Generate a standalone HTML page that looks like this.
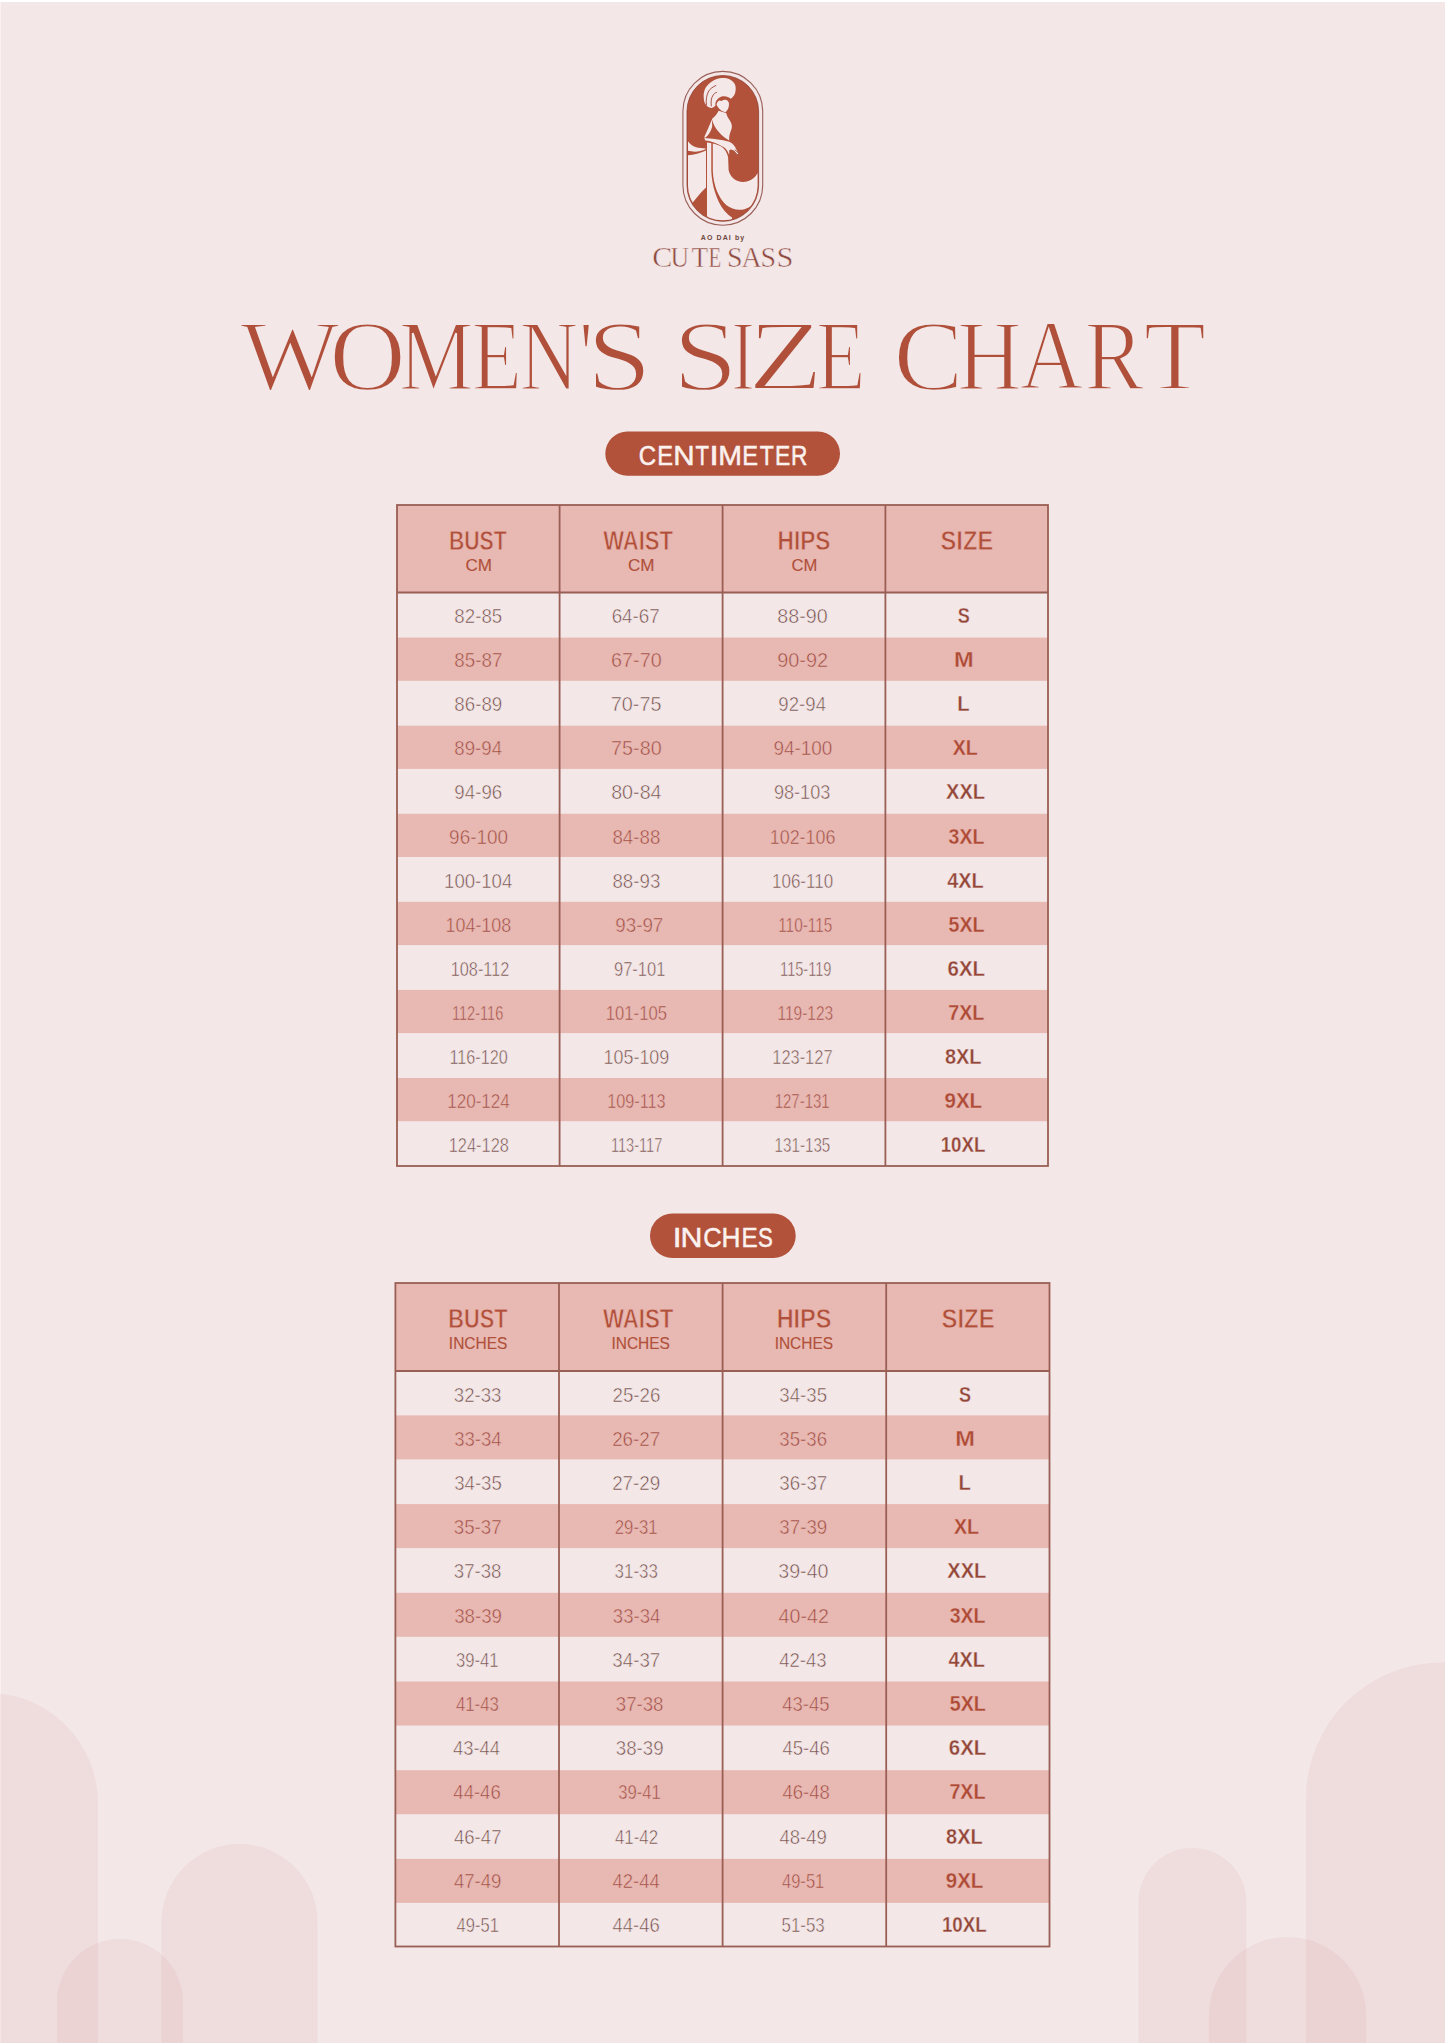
<!DOCTYPE html><html><head><meta charset="utf-8"><title>Women's Size Chart</title>
<style>html,body{margin:0;padding:0;background:#F3E7E8;}body{width:1445px;height:2043px;overflow:hidden;}svg{display:block;}</style></head><body>
<svg width="1445" height="2043" viewBox="0 0 1445 2043">
<rect x="0" y="0" width="1445" height="2043" fill="#F3E7E8"/>
<rect x="0" y="0" width="1445" height="2" fill="#FFFFFF"/>
<rect x="0" y="2" width="1" height="2041" fill="#FBF1F0"/>
<path d="M-122.0 2048.0 L-122.0 1803.0 A110.0 110.0 0 0 1 98.0 1803.0 L98.0 2048.0 Z" fill="rgba(214,140,140,0.11)"/>
<path d="M161.5 2048.0 L161.5 1922.0 A78.0 78.0 0 0 1 317.5 1922.0 L317.5 2048.0 Z" fill="rgba(214,140,140,0.11)"/>
<path d="M57.0 2048.0 L57.0 2002.0 A63.0 63.0 0 0 1 183.0 2002.0 L183.0 2048.0 Z" fill="rgba(214,140,140,0.11)"/>
<path d="M1306.0 2048.0 L1306.0 1798.5 A136.0 136.0 0 0 1 1578.0 1798.5 L1578.0 2048.0 Z" fill="rgba(214,140,140,0.11)"/>
<path d="M1138.4 2048.0 L1138.4 1902.0 A54.0 54.0 0 0 1 1246.4 1902.0 L1246.4 2048.0 Z" fill="rgba(214,140,140,0.11)"/>
<path d="M1208.9 2048.0 L1208.9 2015.6 A78.6 78.6 0 0 1 1366.1 2015.6 L1366.1 2048.0 Z" fill="rgba(214,140,140,0.11)"/>
<g id="logo">
<defs><clipPath id="lc"><rect x="688.0" y="76.5" width="69.6" height="143.8" rx="34.8" ry="34.8"/></clipPath></defs>
<rect x="682.9" y="71.4" width="79.8" height="153.8" rx="39.9" ry="39.9" fill="none" stroke="#9A5F58" stroke-width="1.1"/>
<rect x="687.0" y="75.5" width="71.6" height="145.8" rx="35.8" ry="35.8" fill="#B2523B"/>
<rect x="687.0" y="75.5" width="71.6" height="145.8" rx="35.8" ry="35.8" fill="none" stroke="#8E3E30" stroke-width="0.8"/>
<g clip-path="url(#lc)" fill="#F4E8E9">
<path d="M703.7,98 C703.3,93 704.5,88.5 707.1,85.8 C709.5,83 712.5,80.5 716,79.2 C719.5,77.8 723.5,77.6 726.5,78.2 C730,79 733,81 734.8,84.1 C736,86.5 736,90.5 735,93.5 C734,96 732.5,97.5 730.8,98.8 C729.8,98 728.8,97.4 728.2,97.2 C726.5,96.2 724.5,96 722.5,96.3 C719.5,96.8 717.5,98.8 716.5,100.5 C715.5,102 715.2,103.5 715.4,105.5 C714,107.5 712,108.3 710,107.8 C707,107 705,104 704.2,101.5 Z"/>
<path d="M716.5,104.5 C717,102.5 718,101 719.5,100.5 L721.5,101 C723,100 724.5,99.6 725.8,99.8 C727.2,100.2 728.4,101.2 728.9,103 C729.3,105.5 728.5,108 727.4,110 C726.6,111.3 725.8,112 725.2,112.2 C723.8,111.8 722.6,111.2 721.2,110.4 C719.2,109 717.4,107 716.5,104.5 Z"/>
<path d="M718.6,110.8 C717.5,113.5 715,116.5 711.9,118.9 C713.2,125.5 718.2,133.2 727.6,139.6 L729.2,140.4 C728.9,137 729.6,134 731,130.6 C732.6,127 732.1,123.5 729.6,120 C727.8,117.8 726.8,115.5 726.2,113 C725,112.8 723.3,112.4 722,111.8 C720.8,111.5 719.6,111.2 718.6,110.8 Z"/>
<path d="M711.9,119.6 C709.5,125.5 706.8,131.5 704.1,137.6 L705.6,137.6 C708.5,135 711,131.5 712.2,126.5 Z"/>
<path d="M704.3,137.9 C710,138.2 722,139.5 729.2,141.7 C731.8,142.8 733.6,144.6 734.8,146.6 L738.5,153.5 L736.8,154.4 L733,150.2 C731.5,149 730,149.2 729.2,150.4 L729.2,155 C727.5,150.5 725,147.5 722.4,146.6 C716,142.8 710,140.8 705.3,140.6 Z"/>
<path d="M686,137.5 C688,142.5 691.5,145.8 696,147.3 C699,148.1 702.5,148.4 705.6,148.4 L705.6,149.2 C702,150.6 698.5,151.7 695,151.7 C691.5,151.7 688.5,151 686,150.3 Z"/>
<path d="M686,155.4 C692,155.2 700,153.5 706,150.4 L706,187.4 C701,192 696,198 691,205 L686,205 Z"/>
<path d="M707,142.4 C708.5,142.6 710,142.9 711.3,143.3 L711.3,171 C711.9,185 716.2,200 724.2,210.6 C726.7,213.6 729.2,215.6 732,217.6 L732,230 L707,230 Z"/>
<path d="M712.8,143.6 C717,144.6 720.5,146 722.6,147.4 C725,149.2 727,152.5 728.1,157 L728.6,170 C730,177 735.5,181.9 743.2,181.9 C750.2,181.6 755.2,178 759,171 L759,190 C756.7,198 753.7,204.2 749.2,207.2 C742.2,211.2 733.2,210.6 726.2,205 C718.4,198 713.4,185 712.8,171 Z"/>
</g>
<g fill="none" stroke="#9A4232" stroke-width="0.9" stroke-linecap="round" clip-path="url(#lc)">
<path d="M706.4,104.9 C705.8,100 706.4,95 708.8,91 C710.2,88.8 712,87.5 715.8,85.5"/>
<path d="M711.3,105.9 C710.8,102 711,98 713.3,94.8 C714.2,93.6 715,93 716.5,92.4"/>
<path d="M733.8,150.8 L737.2,154.6 M735,149.8 L738.4,153"/>
</g>
</g>

<text x="700.80" y="240.00" font-size="7.00" textLength="43.39" lengthAdjust="spacing" font-family="Liberation Sans" font-weight="bold" fill="#6F4740">AO DAI by</text>
<g stroke="#F3E7E8" stroke-width="0.5">
<text x="652.30" y="266.60" font-size="30.00" textLength="20.01" lengthAdjust="spacingAndGlyphs" font-family="Liberation Serif" font-weight="normal" fill="#8E4A3F">C</text>
<text x="670.59" y="266.60" font-size="30.00" textLength="18.59" lengthAdjust="spacingAndGlyphs" font-family="Liberation Serif" font-weight="normal" fill="#8E4A3F">U</text>
<text x="691.56" y="266.60" font-size="30.00" textLength="16.57" lengthAdjust="spacingAndGlyphs" font-family="Liberation Serif" font-weight="normal" fill="#8E4A3F">T</text>
<text x="708.58" y="266.60" font-size="30.00" textLength="12.68" lengthAdjust="spacingAndGlyphs" font-family="Liberation Serif" font-weight="normal" fill="#8E4A3F">E</text>
<text x="726.99" y="266.60" font-size="30.00" textLength="15.52" lengthAdjust="spacingAndGlyphs" font-family="Liberation Serif" font-weight="normal" fill="#8E4A3F">S</text>
<text x="741.52" y="266.60" font-size="30.00" textLength="20.08" lengthAdjust="spacingAndGlyphs" font-family="Liberation Serif" font-weight="normal" fill="#8E4A3F">A</text>
<text x="760.59" y="266.60" font-size="30.00" textLength="15.52" lengthAdjust="spacingAndGlyphs" font-family="Liberation Serif" font-weight="normal" fill="#8E4A3F">S</text>
<text x="776.42" y="266.60" font-size="30.00" textLength="16.94" lengthAdjust="spacingAndGlyphs" font-family="Liberation Serif" font-weight="normal" fill="#8E4A3F">S</text>
</g>
<g stroke="#F3E7E8" stroke-width="2.20">
<text x="240.20" y="389.10" font-size="100.31" textLength="99.30" lengthAdjust="spacingAndGlyphs" font-family="Liberation Serif" font-weight="normal" fill="#B0503A">W</text>
<text x="329.26" y="389.10" font-size="100.31" textLength="76.62" lengthAdjust="spacingAndGlyphs" font-family="Liberation Serif" font-weight="normal" fill="#B0503A">O</text>
<text x="399.09" y="389.10" font-size="100.31" textLength="74.45" lengthAdjust="spacingAndGlyphs" font-family="Liberation Serif" font-weight="normal" fill="#B0503A">M</text>
<text x="471.43" y="389.10" font-size="100.31" textLength="50.37" lengthAdjust="spacingAndGlyphs" font-family="Liberation Serif" font-weight="normal" fill="#B0503A">E</text>
<text x="519.56" y="389.10" font-size="100.31" textLength="58.75" lengthAdjust="spacingAndGlyphs" font-family="Liberation Serif" font-weight="normal" fill="#B0503A">N</text>
<text x="579.16" y="389.10" font-size="100.31" textLength="13.69" lengthAdjust="spacingAndGlyphs" font-family="Liberation Serif" font-weight="normal" fill="#B0503A">&#39;</text>
<text x="586.70" y="389.10" font-size="100.31" textLength="65.06" lengthAdjust="spacingAndGlyphs" font-family="Liberation Serif" font-weight="normal" fill="#B0503A">S</text>
<text x="672.88" y="389.10" font-size="100.31" textLength="65.19" lengthAdjust="spacingAndGlyphs" font-family="Liberation Serif" font-weight="normal" fill="#B0503A">S</text>
<text x="731.22" y="389.10" font-size="100.31" textLength="23.63" lengthAdjust="spacingAndGlyphs" font-family="Liberation Serif" font-weight="normal" fill="#B0503A">I</text>
<text x="748.06" y="389.10" font-size="100.31" textLength="75.22" lengthAdjust="spacingAndGlyphs" font-family="Liberation Serif" font-weight="normal" fill="#B0503A">Z</text>
<text x="815.97" y="389.10" font-size="100.31" textLength="49.45" lengthAdjust="spacingAndGlyphs" font-family="Liberation Serif" font-weight="normal" fill="#B0503A">E</text>
<text x="893.61" y="389.10" font-size="100.31" textLength="69.86" lengthAdjust="spacingAndGlyphs" font-family="Liberation Serif" font-weight="normal" fill="#B0503A">C</text>
<text x="957.11" y="389.10" font-size="100.31" textLength="64.83" lengthAdjust="spacingAndGlyphs" font-family="Liberation Serif" font-weight="normal" fill="#B0503A">H</text>
<text x="1019.82" y="389.10" font-size="100.31" textLength="63.51" lengthAdjust="spacingAndGlyphs" font-family="Liberation Serif" font-weight="normal" fill="#B0503A">A</text>
<text x="1084.43" y="389.10" font-size="100.31" textLength="59.35" lengthAdjust="spacingAndGlyphs" font-family="Liberation Serif" font-weight="normal" fill="#B0503A">R</text>
<text x="1143.76" y="389.10" font-size="100.31" textLength="62.36" lengthAdjust="spacingAndGlyphs" font-family="Liberation Serif" font-weight="normal" fill="#B0503A">T</text>
</g>
<rect x="605.3" y="431.6" width="234.7" height="44.1" rx="22.0" ry="22.0" fill="#B2523B"/>
<g stroke="#FBF1EE" stroke-width="0.5">
<text x="638.75" y="464.65" font-size="28.20" textLength="17.40" lengthAdjust="spacingAndGlyphs" font-family="Liberation Sans" font-weight="normal" fill="#FBF1EE">C</text>
<text x="657.36" y="464.65" font-size="28.20" textLength="15.79" lengthAdjust="spacingAndGlyphs" font-family="Liberation Sans" font-weight="normal" fill="#FBF1EE">E</text>
<text x="673.38" y="464.65" font-size="28.20" textLength="21.41" lengthAdjust="spacingAndGlyphs" font-family="Liberation Sans" font-weight="normal" fill="#FBF1EE">N</text>
<text x="695.51" y="464.65" font-size="28.20" textLength="13.50" lengthAdjust="spacingAndGlyphs" font-family="Liberation Sans" font-weight="normal" fill="#FBF1EE">T</text>
<text x="709.32" y="464.65" font-size="28.20" textLength="9.65" lengthAdjust="spacingAndGlyphs" font-family="Liberation Sans" font-weight="normal" fill="#FBF1EE">I</text>
<text x="718.27" y="464.65" font-size="28.20" textLength="23.75" lengthAdjust="spacingAndGlyphs" font-family="Liberation Sans" font-weight="normal" fill="#FBF1EE">M</text>
<text x="742.36" y="464.65" font-size="28.20" textLength="15.79" lengthAdjust="spacingAndGlyphs" font-family="Liberation Sans" font-weight="normal" fill="#FBF1EE">E</text>
<text x="759.69" y="464.65" font-size="28.20" textLength="14.04" lengthAdjust="spacingAndGlyphs" font-family="Liberation Sans" font-weight="normal" fill="#FBF1EE">T</text>
<text x="775.12" y="464.65" font-size="28.20" textLength="15.30" lengthAdjust="spacingAndGlyphs" font-family="Liberation Sans" font-weight="normal" fill="#FBF1EE">E</text>
<text x="790.93" y="464.65" font-size="28.20" textLength="16.39" lengthAdjust="spacingAndGlyphs" font-family="Liberation Sans" font-weight="normal" fill="#FBF1EE">R</text>
</g>
<rect x="650.0" y="1213.5" width="145.7" height="44.5" rx="22.2" ry="22.2" fill="#B2523B"/>
<g stroke="#FBF1EE" stroke-width="0.5">
<text x="672.71" y="1246.75" font-size="27.91" textLength="8.77" lengthAdjust="spacingAndGlyphs" font-family="Liberation Sans" font-weight="normal" fill="#FBF1EE">I</text>
<text x="680.42" y="1246.75" font-size="27.91" textLength="21.92" lengthAdjust="spacingAndGlyphs" font-family="Liberation Sans" font-weight="normal" fill="#FBF1EE">N</text>
<text x="703.27" y="1246.75" font-size="27.91" textLength="18.42" lengthAdjust="spacingAndGlyphs" font-family="Liberation Sans" font-weight="normal" fill="#FBF1EE">C</text>
<text x="721.45" y="1246.75" font-size="27.91" textLength="18.96" lengthAdjust="spacingAndGlyphs" font-family="Liberation Sans" font-weight="normal" fill="#FBF1EE">H</text>
<text x="741.41" y="1246.75" font-size="27.91" textLength="16.16" lengthAdjust="spacingAndGlyphs" font-family="Liberation Sans" font-weight="normal" fill="#FBF1EE">E</text>
<text x="757.95" y="1246.75" font-size="27.91" textLength="14.85" lengthAdjust="spacingAndGlyphs" font-family="Liberation Sans" font-weight="normal" fill="#FBF1EE">S</text>
</g>
<rect x="397.0" y="505.0" width="651.0" height="87.5" fill="#E8B8B2"/>
<rect x="397.0" y="637.60" width="651.0" height="43.20" fill="#E8B8B2"/>
<rect x="397.0" y="725.68" width="651.0" height="43.20" fill="#E8B8B2"/>
<rect x="397.0" y="813.76" width="651.0" height="43.20" fill="#E8B8B2"/>
<rect x="397.0" y="901.84" width="651.0" height="43.20" fill="#E8B8B2"/>
<rect x="397.0" y="989.92" width="651.0" height="43.20" fill="#E8B8B2"/>
<rect x="397.0" y="1078.00" width="651.0" height="43.20" fill="#E8B8B2"/>
<g stroke="#9A5F54" stroke-width="1.80" fill="none">
<rect x="397.0" y="505.0" width="651.0" height="661.0"/>
<line x1="397.0" y1="592.5" x2="1048.0" y2="592.5"/>
<line x1="559.6" y1="505.0" x2="559.6" y2="1166.0"/>
<line x1="722.6" y1="505.0" x2="722.6" y2="1166.0"/>
<line x1="885.4" y1="505.0" x2="885.4" y2="1166.0"/>
</g>
<text x="448.97" y="549.80" font-size="28.08" textLength="57.74" lengthAdjust="spacingAndGlyphs" font-family="Liberation Sans" font-weight="bold" fill="#B0503A" stroke="#E8B8B2" stroke-width="0.80">BUST</text>
<text x="465.45" y="571.00" font-size="16.50" textLength="26.50" lengthAdjust="spacingAndGlyphs" font-family="Liberation Sans" font-weight="normal" fill="#B0503A" stroke="#B0503A" stroke-width="0.15">CM</text>
<text x="603.20" y="549.80" font-size="28.08" textLength="69.86" lengthAdjust="spacingAndGlyphs" font-family="Liberation Sans" font-weight="bold" fill="#B0503A" stroke="#E8B8B2" stroke-width="0.80">WAIST</text>
<text x="628.05" y="571.00" font-size="16.50" textLength="26.50" lengthAdjust="spacingAndGlyphs" font-family="Liberation Sans" font-weight="normal" fill="#B0503A" stroke="#B0503A" stroke-width="0.15">CM</text>
<text x="777.58" y="549.80" font-size="28.08" textLength="52.86" lengthAdjust="spacingAndGlyphs" font-family="Liberation Sans" font-weight="bold" fill="#B0503A" stroke="#E8B8B2" stroke-width="0.80">HIPS</text>
<text x="791.57" y="571.00" font-size="16.50" textLength="25.85" lengthAdjust="spacingAndGlyphs" font-family="Liberation Sans" font-weight="normal" fill="#B0503A" stroke="#B0503A" stroke-width="0.15">CM</text>
<text x="940.59" y="549.80" font-size="28.08" textLength="52.60" lengthAdjust="spacingAndGlyphs" font-family="Liberation Sans" font-weight="bold" fill="#B0503A" stroke="#E8B8B2" stroke-width="0.80">SIZE</text>
<text x="454.36" y="623.30" font-size="19.80" textLength="47.84" lengthAdjust="spacingAndGlyphs" font-family="Liberation Sans" font-weight="normal" fill="#6F4943" stroke="#F3E7E8" stroke-width="0.55">82-85</text>
<text x="611.66" y="623.30" font-size="19.80" textLength="48.13" lengthAdjust="spacingAndGlyphs" font-family="Liberation Sans" font-weight="normal" fill="#6F4943" stroke="#F3E7E8" stroke-width="0.55">64-67</text>
<text x="777.31" y="623.30" font-size="19.80" textLength="50.43" lengthAdjust="spacingAndGlyphs" font-family="Liberation Sans" font-weight="normal" fill="#6F4943" stroke="#F3E7E8" stroke-width="0.55">88-90</text>
<text x="957.86" y="623.30" font-size="21.20" textLength="12.01" lengthAdjust="spacingAndGlyphs" font-family="Liberation Sans" font-weight="bold" fill="#934637" stroke="#F3E7E8" stroke-width="0.30">S</text>
<text x="454.35" y="667.34" font-size="19.80" textLength="48.04" lengthAdjust="spacingAndGlyphs" font-family="Liberation Sans" font-weight="normal" fill="#9A4B41" stroke="#E8B8B2" stroke-width="0.55">85-87</text>
<text x="611.11" y="667.34" font-size="19.80" textLength="50.53" lengthAdjust="spacingAndGlyphs" font-family="Liberation Sans" font-weight="normal" fill="#9A4B41" stroke="#E8B8B2" stroke-width="0.55">67-70</text>
<text x="777.26" y="667.34" font-size="19.80" textLength="50.84" lengthAdjust="spacingAndGlyphs" font-family="Liberation Sans" font-weight="normal" fill="#9A4B41" stroke="#E8B8B2" stroke-width="0.55">90-92</text>
<text x="954.02" y="667.34" font-size="21.20" textLength="19.64" lengthAdjust="spacingAndGlyphs" font-family="Liberation Sans" font-weight="bold" fill="#AD4B36" stroke="#E8B8B2" stroke-width="0.30">M</text>
<text x="454.36" y="711.38" font-size="19.80" textLength="47.94" lengthAdjust="spacingAndGlyphs" font-family="Liberation Sans" font-weight="normal" fill="#6F4943" stroke="#F3E7E8" stroke-width="0.55">86-89</text>
<text x="610.76" y="711.38" font-size="19.80" textLength="50.74" lengthAdjust="spacingAndGlyphs" font-family="Liberation Sans" font-weight="normal" fill="#6F4943" stroke="#F3E7E8" stroke-width="0.55">70-75</text>
<text x="778.36" y="711.38" font-size="19.80" textLength="47.65" lengthAdjust="spacingAndGlyphs" font-family="Liberation Sans" font-weight="normal" fill="#6F4943" stroke="#F3E7E8" stroke-width="0.55">92-94</text>
<text x="957.29" y="711.38" font-size="21.20" textLength="12.34" lengthAdjust="spacingAndGlyphs" font-family="Liberation Sans" font-weight="bold" fill="#934637" stroke="#F3E7E8" stroke-width="0.30">L</text>
<text x="454.36" y="755.42" font-size="19.80" textLength="47.65" lengthAdjust="spacingAndGlyphs" font-family="Liberation Sans" font-weight="normal" fill="#9A4B41" stroke="#E8B8B2" stroke-width="0.55">89-94</text>
<text x="611.11" y="755.42" font-size="19.80" textLength="50.53" lengthAdjust="spacingAndGlyphs" font-family="Liberation Sans" font-weight="normal" fill="#9A4B41" stroke="#E8B8B2" stroke-width="0.55">75-80</text>
<text x="773.40" y="755.42" font-size="19.80" textLength="58.99" lengthAdjust="spacingAndGlyphs" font-family="Liberation Sans" font-weight="normal" fill="#9A4B41" stroke="#E8B8B2" stroke-width="0.55">94-100</text>
<text x="952.70" y="755.42" font-size="21.20" textLength="25.04" lengthAdjust="spacingAndGlyphs" font-family="Liberation Sans" font-weight="bold" fill="#AD4B36" stroke="#E8B8B2" stroke-width="0.30">XL</text>
<text x="454.36" y="799.46" font-size="19.80" textLength="47.84" lengthAdjust="spacingAndGlyphs" font-family="Liberation Sans" font-weight="normal" fill="#6F4943" stroke="#F3E7E8" stroke-width="0.55">94-96</text>
<text x="611.16" y="799.46" font-size="19.80" textLength="50.43" lengthAdjust="spacingAndGlyphs" font-family="Liberation Sans" font-weight="normal" fill="#6F4943" stroke="#F3E7E8" stroke-width="0.55">80-84</text>
<text x="773.93" y="799.46" font-size="19.80" textLength="56.42" lengthAdjust="spacingAndGlyphs" font-family="Liberation Sans" font-weight="normal" fill="#6F4943" stroke="#F3E7E8" stroke-width="0.55">98-103</text>
<text x="946.10" y="799.46" font-size="21.20" textLength="39.00" lengthAdjust="spacingAndGlyphs" font-family="Liberation Sans" font-weight="bold" fill="#934637" stroke="#F3E7E8" stroke-width="0.30">XXL</text>
<text x="449.10" y="843.50" font-size="19.80" textLength="58.99" lengthAdjust="spacingAndGlyphs" font-family="Liberation Sans" font-weight="normal" fill="#9A4B41" stroke="#E8B8B2" stroke-width="0.55">96-100</text>
<text x="612.46" y="843.50" font-size="19.80" textLength="47.84" lengthAdjust="spacingAndGlyphs" font-family="Liberation Sans" font-weight="normal" fill="#9A4B41" stroke="#E8B8B2" stroke-width="0.55">84-88</text>
<text x="769.76" y="843.50" font-size="19.80" textLength="65.66" lengthAdjust="spacingAndGlyphs" font-family="Liberation Sans" font-weight="normal" fill="#9A4B41" stroke="#E8B8B2" stroke-width="0.55">102-106</text>
<text x="948.61" y="843.50" font-size="21.20" textLength="35.65" lengthAdjust="spacingAndGlyphs" font-family="Liberation Sans" font-weight="bold" fill="#AD4B36" stroke="#E8B8B2" stroke-width="0.30">3XL</text>
<text x="444.06" y="887.54" font-size="19.80" textLength="68.25" lengthAdjust="spacingAndGlyphs" font-family="Liberation Sans" font-weight="normal" fill="#6F4943" stroke="#F3E7E8" stroke-width="0.55">100-104</text>
<text x="612.46" y="887.54" font-size="19.80" textLength="47.84" lengthAdjust="spacingAndGlyphs" font-family="Liberation Sans" font-weight="normal" fill="#6F4943" stroke="#F3E7E8" stroke-width="0.55">88-93</text>
<text x="772.03" y="887.54" font-size="19.80" textLength="61.08" lengthAdjust="spacingAndGlyphs" font-family="Liberation Sans" font-weight="normal" fill="#6F4943" stroke="#F3E7E8" stroke-width="0.55">106-110</text>
<text x="947.20" y="887.54" font-size="21.20" textLength="36.48" lengthAdjust="spacingAndGlyphs" font-family="Liberation Sans" font-weight="bold" fill="#934637" stroke="#F3E7E8" stroke-width="0.30">4XL</text>
<text x="445.56" y="931.58" font-size="19.80" textLength="65.66" lengthAdjust="spacingAndGlyphs" font-family="Liberation Sans" font-weight="normal" fill="#9A4B41" stroke="#E8B8B2" stroke-width="0.55">104-108</text>
<text x="615.25" y="931.58" font-size="19.80" textLength="48.04" lengthAdjust="spacingAndGlyphs" font-family="Liberation Sans" font-weight="normal" fill="#9A4B41" stroke="#E8B8B2" stroke-width="0.55">93-97</text>
<text x="778.20" y="931.58" font-size="19.80" textLength="54.09" lengthAdjust="spacingAndGlyphs" font-family="Liberation Sans" font-weight="normal" fill="#9A4B41" stroke="#E8B8B2" stroke-width="0.55">110-115</text>
<text x="948.61" y="931.58" font-size="21.20" textLength="35.96" lengthAdjust="spacingAndGlyphs" font-family="Liberation Sans" font-weight="bold" fill="#AD4B36" stroke="#E8B8B2" stroke-width="0.30">5XL</text>
<text x="450.68" y="975.62" font-size="19.80" textLength="58.65" lengthAdjust="spacingAndGlyphs" font-family="Liberation Sans" font-weight="normal" fill="#6F4943" stroke="#F3E7E8" stroke-width="0.55">108-112</text>
<text x="614.01" y="975.62" font-size="19.80" textLength="51.37" lengthAdjust="spacingAndGlyphs" font-family="Liberation Sans" font-weight="normal" fill="#6F4943" stroke="#F3E7E8" stroke-width="0.55">97-101</text>
<text x="780.11" y="975.62" font-size="19.80" textLength="51.37" lengthAdjust="spacingAndGlyphs" font-family="Liberation Sans" font-weight="normal" fill="#6F4943" stroke="#F3E7E8" stroke-width="0.55">115-119</text>
<text x="947.58" y="975.62" font-size="21.20" textLength="37.51" lengthAdjust="spacingAndGlyphs" font-family="Liberation Sans" font-weight="bold" fill="#934637" stroke="#F3E7E8" stroke-width="0.30">6XL</text>
<text x="452.01" y="1019.66" font-size="19.80" textLength="51.30" lengthAdjust="spacingAndGlyphs" font-family="Liberation Sans" font-weight="normal" fill="#9A4B41" stroke="#E8B8B2" stroke-width="0.55">112-116</text>
<text x="605.80" y="1019.66" font-size="19.80" textLength="61.22" lengthAdjust="spacingAndGlyphs" font-family="Liberation Sans" font-weight="normal" fill="#9A4B41" stroke="#E8B8B2" stroke-width="0.55">101-105</text>
<text x="777.49" y="1019.66" font-size="19.80" textLength="55.69" lengthAdjust="spacingAndGlyphs" font-family="Liberation Sans" font-weight="normal" fill="#9A4B41" stroke="#E8B8B2" stroke-width="0.55">119-123</text>
<text x="948.21" y="1019.66" font-size="21.20" textLength="36.16" lengthAdjust="spacingAndGlyphs" font-family="Liberation Sans" font-weight="bold" fill="#AD4B36" stroke="#E8B8B2" stroke-width="0.30">7XL</text>
<text x="449.53" y="1063.70" font-size="19.80" textLength="58.30" lengthAdjust="spacingAndGlyphs" font-family="Liberation Sans" font-weight="normal" fill="#6F4943" stroke="#F3E7E8" stroke-width="0.55">116-120</text>
<text x="603.56" y="1063.70" font-size="19.80" textLength="65.75" lengthAdjust="spacingAndGlyphs" font-family="Liberation Sans" font-weight="normal" fill="#6F4943" stroke="#F3E7E8" stroke-width="0.55">105-109</text>
<text x="772.27" y="1063.70" font-size="19.80" textLength="60.25" lengthAdjust="spacingAndGlyphs" font-family="Liberation Sans" font-weight="normal" fill="#6F4943" stroke="#F3E7E8" stroke-width="0.55">123-127</text>
<text x="944.90" y="1063.70" font-size="21.20" textLength="36.58" lengthAdjust="spacingAndGlyphs" font-family="Liberation Sans" font-weight="bold" fill="#934637" stroke="#F3E7E8" stroke-width="0.30">8XL</text>
<text x="447.17" y="1107.74" font-size="19.80" textLength="62.70" lengthAdjust="spacingAndGlyphs" font-family="Liberation Sans" font-weight="normal" fill="#9A4B41" stroke="#E8B8B2" stroke-width="0.55">120-124</text>
<text x="607.18" y="1107.74" font-size="19.80" textLength="58.48" lengthAdjust="spacingAndGlyphs" font-family="Liberation Sans" font-weight="normal" fill="#9A4B41" stroke="#E8B8B2" stroke-width="0.55">109-113</text>
<text x="774.68" y="1107.74" font-size="19.80" textLength="55.00" lengthAdjust="spacingAndGlyphs" font-family="Liberation Sans" font-weight="normal" fill="#9A4B41" stroke="#E8B8B2" stroke-width="0.55">127-131</text>
<text x="944.58" y="1107.74" font-size="21.20" textLength="37.51" lengthAdjust="spacingAndGlyphs" font-family="Liberation Sans" font-weight="bold" fill="#AD4B36" stroke="#E8B8B2" stroke-width="0.30">9XL</text>
<text x="448.77" y="1151.78" font-size="19.80" textLength="60.08" lengthAdjust="spacingAndGlyphs" font-family="Liberation Sans" font-weight="normal" fill="#6F4943" stroke="#F3E7E8" stroke-width="0.55">124-128</text>
<text x="610.90" y="1151.78" font-size="19.80" textLength="51.45" lengthAdjust="spacingAndGlyphs" font-family="Liberation Sans" font-weight="normal" fill="#6F4943" stroke="#F3E7E8" stroke-width="0.55">113-117</text>
<text x="774.61" y="1151.78" font-size="19.80" textLength="55.64" lengthAdjust="spacingAndGlyphs" font-family="Liberation Sans" font-weight="normal" fill="#6F4943" stroke="#F3E7E8" stroke-width="0.55">131-135</text>
<text x="940.68" y="1151.78" font-size="21.20" textLength="44.69" lengthAdjust="spacingAndGlyphs" font-family="Liberation Sans" font-weight="bold" fill="#934637" stroke="#F3E7E8" stroke-width="0.30">10XL</text>
<rect x="395.4" y="1283.0" width="654.1" height="88.0" fill="#E8B8B2"/>
<rect x="395.4" y="1415.40" width="654.1" height="44.00" fill="#E8B8B2"/>
<rect x="395.4" y="1504.10" width="654.1" height="44.00" fill="#E8B8B2"/>
<rect x="395.4" y="1592.80" width="654.1" height="44.00" fill="#E8B8B2"/>
<rect x="395.4" y="1681.50" width="654.1" height="44.00" fill="#E8B8B2"/>
<rect x="395.4" y="1770.20" width="654.1" height="44.00" fill="#E8B8B2"/>
<rect x="395.4" y="1858.90" width="654.1" height="44.00" fill="#E8B8B2"/>
<g stroke="#9A5F54" stroke-width="1.80" fill="none">
<rect x="395.4" y="1283.0" width="654.1" height="663.5"/>
<line x1="395.4" y1="1371.0" x2="1049.5" y2="1371.0"/>
<line x1="559.0" y1="1283.0" x2="559.0" y2="1946.5"/>
<line x1="722.6" y1="1283.0" x2="722.6" y2="1946.5"/>
<line x1="886.2" y1="1283.0" x2="886.2" y2="1946.5"/>
</g>
<text x="448.24" y="1327.80" font-size="28.08" textLength="59.18" lengthAdjust="spacingAndGlyphs" font-family="Liberation Sans" font-weight="bold" fill="#B0503A" stroke="#E8B8B2" stroke-width="0.80">BUST</text>
<text x="448.86" y="1349.00" font-size="16.50" textLength="58.44" lengthAdjust="spacingAndGlyphs" font-family="Liberation Sans" font-weight="normal" fill="#B0503A" stroke="#B0503A" stroke-width="0.15">INCHES</text>
<text x="602.90" y="1327.80" font-size="28.08" textLength="70.46" lengthAdjust="spacingAndGlyphs" font-family="Liberation Sans" font-weight="bold" fill="#B0503A" stroke="#E8B8B2" stroke-width="0.80">WAIST</text>
<text x="611.46" y="1349.00" font-size="16.50" textLength="58.44" lengthAdjust="spacingAndGlyphs" font-family="Liberation Sans" font-weight="normal" fill="#B0503A" stroke="#B0503A" stroke-width="0.15">INCHES</text>
<text x="776.63" y="1327.80" font-size="28.08" textLength="54.74" lengthAdjust="spacingAndGlyphs" font-family="Liberation Sans" font-weight="bold" fill="#B0503A" stroke="#E8B8B2" stroke-width="0.80">HIPS</text>
<text x="774.66" y="1349.00" font-size="16.50" textLength="58.44" lengthAdjust="spacingAndGlyphs" font-family="Liberation Sans" font-weight="normal" fill="#B0503A" stroke="#B0503A" stroke-width="0.15">INCHES</text>
<text x="941.58" y="1327.80" font-size="28.08" textLength="53.02" lengthAdjust="spacingAndGlyphs" font-family="Liberation Sans" font-weight="bold" fill="#B0503A" stroke="#E8B8B2" stroke-width="0.80">SIZE</text>
<text x="453.75" y="1401.60" font-size="19.80" textLength="47.74" lengthAdjust="spacingAndGlyphs" font-family="Liberation Sans" font-weight="normal" fill="#6F4943" stroke="#F3E7E8" stroke-width="0.55">32-33</text>
<text x="612.46" y="1401.60" font-size="19.80" textLength="47.94" lengthAdjust="spacingAndGlyphs" font-family="Liberation Sans" font-weight="normal" fill="#6F4943" stroke="#F3E7E8" stroke-width="0.55">25-26</text>
<text x="779.35" y="1401.60" font-size="19.80" textLength="47.74" lengthAdjust="spacingAndGlyphs" font-family="Liberation Sans" font-weight="normal" fill="#6F4943" stroke="#F3E7E8" stroke-width="0.55">34-35</text>
<text x="959.06" y="1401.60" font-size="21.20" textLength="12.01" lengthAdjust="spacingAndGlyphs" font-family="Liberation Sans" font-weight="bold" fill="#934637" stroke="#F3E7E8" stroke-width="0.30">S</text>
<text x="454.16" y="1445.80" font-size="19.80" textLength="47.55" lengthAdjust="spacingAndGlyphs" font-family="Liberation Sans" font-weight="normal" fill="#9A4B41" stroke="#E8B8B2" stroke-width="0.55">33-34</text>
<text x="612.16" y="1445.80" font-size="19.80" textLength="48.13" lengthAdjust="spacingAndGlyphs" font-family="Liberation Sans" font-weight="normal" fill="#9A4B41" stroke="#E8B8B2" stroke-width="0.55">26-27</text>
<text x="779.35" y="1445.80" font-size="19.80" textLength="47.74" lengthAdjust="spacingAndGlyphs" font-family="Liberation Sans" font-weight="normal" fill="#9A4B41" stroke="#E8B8B2" stroke-width="0.55">35-36</text>
<text x="955.22" y="1445.80" font-size="21.20" textLength="19.64" lengthAdjust="spacingAndGlyphs" font-family="Liberation Sans" font-weight="bold" fill="#AD4B36" stroke="#E8B8B2" stroke-width="0.30">M</text>
<text x="454.15" y="1490.00" font-size="19.80" textLength="47.74" lengthAdjust="spacingAndGlyphs" font-family="Liberation Sans" font-weight="normal" fill="#6F4943" stroke="#F3E7E8" stroke-width="0.55">34-35</text>
<text x="612.16" y="1490.00" font-size="19.80" textLength="48.04" lengthAdjust="spacingAndGlyphs" font-family="Liberation Sans" font-weight="normal" fill="#6F4943" stroke="#F3E7E8" stroke-width="0.55">27-29</text>
<text x="779.35" y="1490.00" font-size="19.80" textLength="47.94" lengthAdjust="spacingAndGlyphs" font-family="Liberation Sans" font-weight="normal" fill="#6F4943" stroke="#F3E7E8" stroke-width="0.55">36-37</text>
<text x="958.49" y="1490.00" font-size="21.20" textLength="12.34" lengthAdjust="spacingAndGlyphs" font-family="Liberation Sans" font-weight="bold" fill="#934637" stroke="#F3E7E8" stroke-width="0.30">L</text>
<text x="453.75" y="1534.20" font-size="19.80" textLength="47.94" lengthAdjust="spacingAndGlyphs" font-family="Liberation Sans" font-weight="normal" fill="#9A4B41" stroke="#E8B8B2" stroke-width="0.55">35-37</text>
<text x="614.76" y="1534.20" font-size="19.80" textLength="42.84" lengthAdjust="spacingAndGlyphs" font-family="Liberation Sans" font-weight="normal" fill="#9A4B41" stroke="#E8B8B2" stroke-width="0.55">29-31</text>
<text x="779.35" y="1534.20" font-size="19.80" textLength="47.84" lengthAdjust="spacingAndGlyphs" font-family="Liberation Sans" font-weight="normal" fill="#9A4B41" stroke="#E8B8B2" stroke-width="0.55">37-39</text>
<text x="953.90" y="1534.20" font-size="21.20" textLength="25.04" lengthAdjust="spacingAndGlyphs" font-family="Liberation Sans" font-weight="bold" fill="#AD4B36" stroke="#E8B8B2" stroke-width="0.30">XL</text>
<text x="453.75" y="1578.40" font-size="19.80" textLength="47.74" lengthAdjust="spacingAndGlyphs" font-family="Liberation Sans" font-weight="normal" fill="#6F4943" stroke="#F3E7E8" stroke-width="0.55">37-38</text>
<text x="614.57" y="1578.40" font-size="19.80" textLength="43.30" lengthAdjust="spacingAndGlyphs" font-family="Liberation Sans" font-weight="normal" fill="#6F4943" stroke="#F3E7E8" stroke-width="0.55">31-33</text>
<text x="778.21" y="1578.40" font-size="19.80" textLength="50.33" lengthAdjust="spacingAndGlyphs" font-family="Liberation Sans" font-weight="normal" fill="#6F4943" stroke="#F3E7E8" stroke-width="0.55">39-40</text>
<text x="947.30" y="1578.40" font-size="21.20" textLength="39.00" lengthAdjust="spacingAndGlyphs" font-family="Liberation Sans" font-weight="bold" fill="#934637" stroke="#F3E7E8" stroke-width="0.30">XXL</text>
<text x="454.15" y="1622.60" font-size="19.80" textLength="47.84" lengthAdjust="spacingAndGlyphs" font-family="Liberation Sans" font-weight="normal" fill="#9A4B41" stroke="#E8B8B2" stroke-width="0.55">38-39</text>
<text x="612.86" y="1622.60" font-size="19.80" textLength="47.55" lengthAdjust="spacingAndGlyphs" font-family="Liberation Sans" font-weight="normal" fill="#9A4B41" stroke="#E8B8B2" stroke-width="0.55">33-34</text>
<text x="778.56" y="1622.60" font-size="19.80" textLength="50.33" lengthAdjust="spacingAndGlyphs" font-family="Liberation Sans" font-weight="normal" fill="#9A4B41" stroke="#E8B8B2" stroke-width="0.55">40-42</text>
<text x="949.81" y="1622.60" font-size="21.20" textLength="35.65" lengthAdjust="spacingAndGlyphs" font-family="Liberation Sans" font-weight="bold" fill="#AD4B36" stroke="#E8B8B2" stroke-width="0.30">3XL</text>
<text x="455.93" y="1666.80" font-size="19.80" textLength="42.66" lengthAdjust="spacingAndGlyphs" font-family="Liberation Sans" font-weight="normal" fill="#6F4943" stroke="#F3E7E8" stroke-width="0.55">39-41</text>
<text x="612.35" y="1666.80" font-size="19.80" textLength="47.94" lengthAdjust="spacingAndGlyphs" font-family="Liberation Sans" font-weight="normal" fill="#6F4943" stroke="#F3E7E8" stroke-width="0.55">34-37</text>
<text x="779.13" y="1666.80" font-size="19.80" textLength="47.36" lengthAdjust="spacingAndGlyphs" font-family="Liberation Sans" font-weight="normal" fill="#6F4943" stroke="#F3E7E8" stroke-width="0.55">42-43</text>
<text x="948.40" y="1666.80" font-size="21.20" textLength="36.48" lengthAdjust="spacingAndGlyphs" font-family="Liberation Sans" font-weight="bold" fill="#934637" stroke="#F3E7E8" stroke-width="0.30">4XL</text>
<text x="455.91" y="1711.00" font-size="19.80" textLength="42.95" lengthAdjust="spacingAndGlyphs" font-family="Liberation Sans" font-weight="normal" fill="#9A4B41" stroke="#E8B8B2" stroke-width="0.55">41-43</text>
<text x="615.75" y="1711.00" font-size="19.80" textLength="47.74" lengthAdjust="spacingAndGlyphs" font-family="Liberation Sans" font-weight="normal" fill="#9A4B41" stroke="#E8B8B2" stroke-width="0.55">37-38</text>
<text x="782.23" y="1711.00" font-size="19.80" textLength="47.36" lengthAdjust="spacingAndGlyphs" font-family="Liberation Sans" font-weight="normal" fill="#9A4B41" stroke="#E8B8B2" stroke-width="0.55">43-45</text>
<text x="949.81" y="1711.00" font-size="21.20" textLength="35.96" lengthAdjust="spacingAndGlyphs" font-family="Liberation Sans" font-weight="bold" fill="#AD4B36" stroke="#E8B8B2" stroke-width="0.30">5XL</text>
<text x="452.93" y="1755.20" font-size="19.80" textLength="47.17" lengthAdjust="spacingAndGlyphs" font-family="Liberation Sans" font-weight="normal" fill="#6F4943" stroke="#F3E7E8" stroke-width="0.55">43-44</text>
<text x="615.75" y="1755.20" font-size="19.80" textLength="47.84" lengthAdjust="spacingAndGlyphs" font-family="Liberation Sans" font-weight="normal" fill="#6F4943" stroke="#F3E7E8" stroke-width="0.55">38-39</text>
<text x="782.53" y="1755.20" font-size="19.80" textLength="47.36" lengthAdjust="spacingAndGlyphs" font-family="Liberation Sans" font-weight="normal" fill="#6F4943" stroke="#F3E7E8" stroke-width="0.55">45-46</text>
<text x="948.78" y="1755.20" font-size="21.20" textLength="37.51" lengthAdjust="spacingAndGlyphs" font-family="Liberation Sans" font-weight="bold" fill="#934637" stroke="#F3E7E8" stroke-width="0.30">6XL</text>
<text x="453.33" y="1799.40" font-size="19.80" textLength="47.36" lengthAdjust="spacingAndGlyphs" font-family="Liberation Sans" font-weight="normal" fill="#9A4B41" stroke="#E8B8B2" stroke-width="0.55">44-46</text>
<text x="618.23" y="1799.40" font-size="19.80" textLength="42.66" lengthAdjust="spacingAndGlyphs" font-family="Liberation Sans" font-weight="normal" fill="#9A4B41" stroke="#E8B8B2" stroke-width="0.55">39-41</text>
<text x="782.53" y="1799.40" font-size="19.80" textLength="47.36" lengthAdjust="spacingAndGlyphs" font-family="Liberation Sans" font-weight="normal" fill="#9A4B41" stroke="#E8B8B2" stroke-width="0.55">46-48</text>
<text x="949.41" y="1799.40" font-size="21.20" textLength="36.16" lengthAdjust="spacingAndGlyphs" font-family="Liberation Sans" font-weight="bold" fill="#AD4B36" stroke="#E8B8B2" stroke-width="0.30">7XL</text>
<text x="453.93" y="1843.60" font-size="19.80" textLength="47.55" lengthAdjust="spacingAndGlyphs" font-family="Liberation Sans" font-weight="normal" fill="#6F4943" stroke="#F3E7E8" stroke-width="0.55">46-47</text>
<text x="614.91" y="1843.60" font-size="19.80" textLength="43.13" lengthAdjust="spacingAndGlyphs" font-family="Liberation Sans" font-weight="normal" fill="#6F4943" stroke="#F3E7E8" stroke-width="0.55">41-42</text>
<text x="779.43" y="1843.60" font-size="19.80" textLength="47.46" lengthAdjust="spacingAndGlyphs" font-family="Liberation Sans" font-weight="normal" fill="#6F4943" stroke="#F3E7E8" stroke-width="0.55">48-49</text>
<text x="946.10" y="1843.60" font-size="21.20" textLength="36.58" lengthAdjust="spacingAndGlyphs" font-family="Liberation Sans" font-weight="bold" fill="#934637" stroke="#F3E7E8" stroke-width="0.30">8XL</text>
<text x="453.93" y="1887.80" font-size="19.80" textLength="47.46" lengthAdjust="spacingAndGlyphs" font-family="Liberation Sans" font-weight="normal" fill="#9A4B41" stroke="#E8B8B2" stroke-width="0.55">47-49</text>
<text x="612.53" y="1887.80" font-size="19.80" textLength="47.17" lengthAdjust="spacingAndGlyphs" font-family="Liberation Sans" font-weight="normal" fill="#9A4B41" stroke="#E8B8B2" stroke-width="0.55">42-44</text>
<text x="781.97" y="1887.80" font-size="19.80" textLength="42.32" lengthAdjust="spacingAndGlyphs" font-family="Liberation Sans" font-weight="normal" fill="#9A4B41" stroke="#E8B8B2" stroke-width="0.55">49-51</text>
<text x="945.78" y="1887.80" font-size="21.20" textLength="37.51" lengthAdjust="spacingAndGlyphs" font-family="Liberation Sans" font-weight="bold" fill="#AD4B36" stroke="#E8B8B2" stroke-width="0.30">9XL</text>
<text x="456.57" y="1932.00" font-size="19.80" textLength="42.32" lengthAdjust="spacingAndGlyphs" font-family="Liberation Sans" font-weight="normal" fill="#6F4943" stroke="#F3E7E8" stroke-width="0.55">49-51</text>
<text x="612.53" y="1932.00" font-size="19.80" textLength="47.36" lengthAdjust="spacingAndGlyphs" font-family="Liberation Sans" font-weight="normal" fill="#6F4943" stroke="#F3E7E8" stroke-width="0.55">44-46</text>
<text x="781.47" y="1932.00" font-size="19.80" textLength="43.30" lengthAdjust="spacingAndGlyphs" font-family="Liberation Sans" font-weight="normal" fill="#6F4943" stroke="#F3E7E8" stroke-width="0.55">51-53</text>
<text x="941.88" y="1932.00" font-size="21.20" textLength="44.69" lengthAdjust="spacingAndGlyphs" font-family="Liberation Sans" font-weight="bold" fill="#934637" stroke="#F3E7E8" stroke-width="0.30">10XL</text>
</svg></body></html>
